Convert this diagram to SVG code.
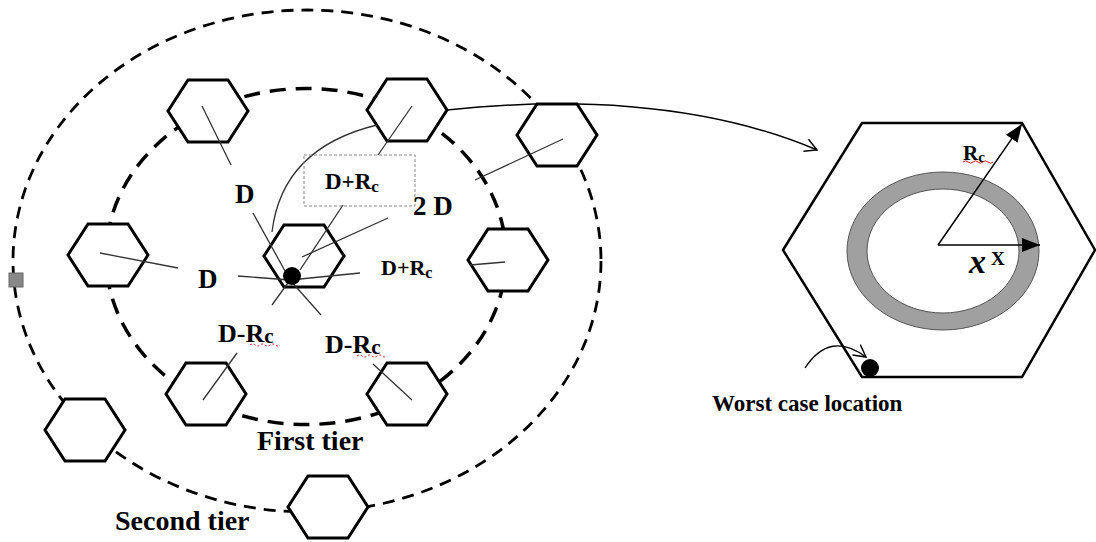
<svg xmlns="http://www.w3.org/2000/svg" xmlns:xlink="http://www.w3.org/1999/xlink" width="1096" height="542" viewBox="0 0 1096 542">
<style>
.hex{fill:#fff;stroke:#000;stroke-width:3;stroke-linejoin:miter}
.thin{stroke:#333;stroke-width:1.3;fill:none}
.lbl{font-family:"Liberation Serif","Times New Roman",serif;font-weight:bold;fill:#000}
.wavy{stroke:#e02020;stroke-width:1;fill:none}
</style>
<defs>
<polygon id="hx" points="-40,0 -20,-31 20,-31 40,0 20,31 -20,31"/>
<marker id="open" markerWidth="16" markerHeight="16" refX="13" refY="8" orient="auto" markerUnits="userSpaceOnUse">
<path d="M1,1.5 L13,8 L1,14.5" fill="none" stroke="#000" stroke-width="1.4"/>
</marker>
<marker id="fill" markerWidth="20" markerHeight="14" refX="18" refY="7" orient="auto" markerUnits="userSpaceOnUse">
<path d="M0,0 L18,7 L0,14 Z" fill="#000"/>
</marker>
</defs>
<rect width="1096" height="542" fill="#fff"/>

<g id="tiers">
<ellipse cx="307" cy="261" rx="294" ry="251" fill="none" stroke="#000" stroke-width="2.8" stroke-dasharray="12 8"/>
<ellipse cx="306" cy="256.5" rx="200" ry="168" fill="none" stroke="#000" stroke-width="3.5" stroke-dasharray="16 10"/>
<rect x="9" y="273" width="14" height="14" fill="#888" stroke="#666" stroke-width="1"/>
</g>

<g id="hex1"><use xlink:href="#hx" x="208" y="111" class="hex"/></g>
<g id="hex2"><use xlink:href="#hx" x="407" y="110" class="hex"/></g>
<g id="hex3"><use xlink:href="#hx" x="557" y="135" class="hex"/></g>
<g id="hex4"><use xlink:href="#hx" x="108" y="255" class="hex"/></g>
<g id="hex5"><use xlink:href="#hx" x="304" y="256" class="hex"/></g>
<g id="hex6"><use xlink:href="#hx" x="508" y="260" class="hex"/></g>
<g id="hex7"><use xlink:href="#hx" x="206" y="394" class="hex"/></g>
<g id="hex8"><use xlink:href="#hx" x="407" y="394" class="hex"/></g>
<g id="hex9"><use xlink:href="#hx" x="85" y="430" class="hex"/></g>
<g id="hex10"><use xlink:href="#hx" x="328" y="507" class="hex"/></g>

<g id="connectors">
<line class="thin" x1="202" y1="106" x2="231" y2="165"/>
<line class="thin" x1="412" y1="106" x2="378" y2="155"/>
<line class="thin" x1="343" y1="205" x2="300" y2="270"/>
<line class="thin" x1="388" y1="218" x2="302" y2="257"/>
<line class="thin" x1="563" y1="139" x2="475" y2="180"/>
<line class="thin" x1="100" y1="253" x2="178" y2="268"/>
<line class="thin" x1="505" y1="262" x2="470" y2="265"/>
<line class="thin" x1="203" y1="400" x2="237" y2="353"/>
<line class="thin" x1="412" y1="400" x2="373" y2="364"/>
<line class="thin" x1="253" y1="213" x2="290" y2="280"/>
<line class="thin" x1="238" y1="276" x2="290" y2="280"/>
<line class="thin" x1="290" y1="280" x2="360" y2="273"/>
<line class="thin" x1="290" y1="280" x2="272" y2="305"/>
<line class="thin" x1="290" y1="280" x2="321" y2="315"/>
<path class="thin" d="M272,232 Q282,148 377,125"/>
<path d="M447,110 C560,98 700,100 817,150" fill="none" stroke="#000" stroke-width="1.5" marker-end="url(#open)"/>
<path d="M805,368 Q830,330 866,357" fill="none" stroke="#000" stroke-width="1.3" marker-end="url(#open)"/>
</g>

<g id="center-dot"><circle cx="292" cy="276" r="9" fill="#000"/></g>

<g id="box">
<rect x="304" y="155" width="111" height="51" fill="none" stroke="#888" stroke-width="1" stroke-dasharray="3 2"/>
</g>

<g id="labels">
<text class="lbl" x="235" y="203" font-size="27">D</text>
<text class="lbl" x="325" y="189" font-size="23">D+R<tspan font-size="17" dy="3">c</tspan></text>
<text class="lbl" x="413" y="215" font-size="27">2 D</text>
<text class="lbl" x="198" y="288" font-size="27">D</text>
<text class="lbl" x="381" y="275" font-size="22">D+R<tspan font-size="16" dy="3">c</tspan></text>
<text class="lbl" x="218" y="342" font-size="26">D-R<tspan font-size="21" dy="1">c</tspan></text>
<text class="lbl" x="325" y="353" font-size="26">D-R<tspan font-size="21" dy="1">c</tspan></text>
<text class="lbl" x="257" y="450" font-size="28">First tier</text>
<text class="lbl" x="115" y="530" font-size="28">Second tier</text>
<path class="wavy" stroke-dasharray="2 2" d="M250,345 q2.5,-2 5,0 t5,0 t5,0 t5,0 t5,0 t5,0"/>
<path class="wavy" stroke-dasharray="2 2" d="M357,356 q2.5,-2 5,0 t5,0 t5,0 t5,0 t5,0 t5,0"/>
</g>

<g id="detail-cell">
<polygon points="783,250 862,123 1022,123 1095,250 1022,377 862,377" fill="none" stroke="#000" stroke-width="2.5"/>
<path d="M1039,251 A96,79 0 1 0 847,251 A96,79 0 1 0 1039,251 Z M1019,251 A76,62 0 1 1 867,251 A76,62 0 1 1 1019,251 Z" fill="#a0a0a0" fill-rule="evenodd" stroke="#555" stroke-width="1"/>
<line x1="938" y1="245" x2="1040" y2="245" stroke="#000" stroke-width="1.5" marker-end="url(#fill)"/>
<line x1="938" y1="245" x2="1022" y2="124" stroke="#000" stroke-width="1.5" marker-end="url(#fill)"/>
<circle cx="870" cy="368" r="9" fill="#000"/>
<text class="lbl" x="963" y="160" font-size="21">R<tspan font-size="15" dy="2">c</tspan></text>
<path class="wavy" d="M963,162 q2.5,-2.5 5,0 t5,0 t5,0 t5,0 t5,0 t5,0"/>
<text x="969" y="273" font-family="Liberation Serif,serif" font-style="italic" font-weight="bold" font-size="34" fill="#000">x</text>
<text class="lbl" x="991" y="265" font-size="19">X</text>
</g>

<g id="worst-label">
<text class="lbl" x="712" y="411" font-size="23">Worst case location</text>
</g>
</svg>
